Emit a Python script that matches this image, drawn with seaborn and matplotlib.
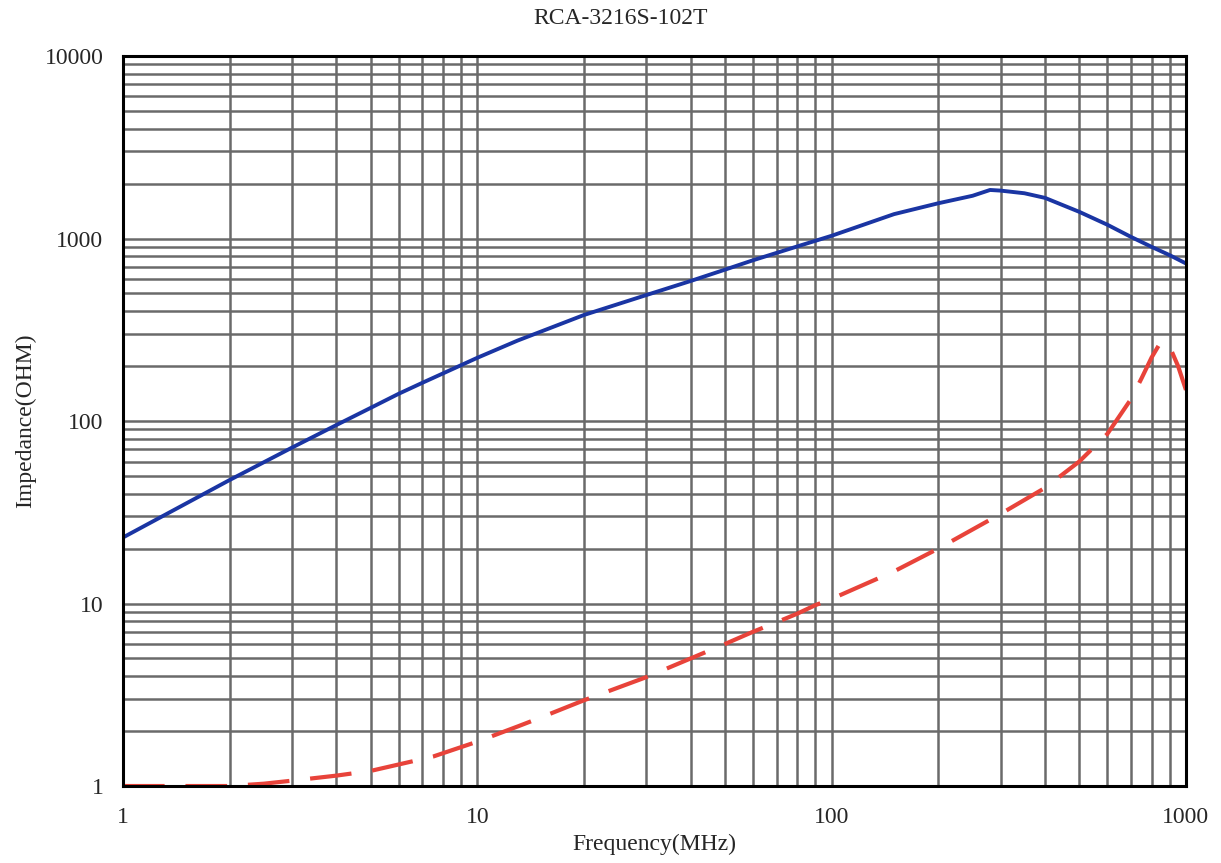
import numpy as np
import matplotlib
matplotlib.use("Agg")
import matplotlib.pyplot as plt
import matplotlib.ticker as ticker
import seaborn as sns

# impedance curve (solid blue)
freq_z = [1, 2, 3, 4, 5, 6, 7, 10, 13, 20, 30, 40, 50, 60, 80, 100, 150, 200,
          250, 280, 300, 350, 400, 500, 600, 700, 800, 900, 1000]
imp_z = [23, 47.5, 71.5, 95, 118, 141, 162, 222, 276, 381, 490, 585, 675, 760,
         905, 1035, 1360, 1560, 1715, 1845, 1830, 1770, 1670, 1400, 1190, 1020,
         900, 810, 730]

# second curve (dashed red)
freq_r = [1, 2, 2.5, 3, 4, 5, 6.5, 7.5, 10, 13, 15, 20, 30, 40, 50, 60, 70, 80,
          90, 100, 150, 200, 300, 400, 500, 600, 700, 750, 800, 850, 900, 950, 1000]
imp_r = [1.0, 1.0, 1.03, 1.07, 1.14, 1.21, 1.36, 1.45, 1.75, 2.12, 2.36, 2.95,
         3.95, 5.0, 6.0, 7.0, 7.9, 8.8, 9.8, 10.6, 15, 20, 31, 43, 60, 85, 132,
         172, 223, 272, 255, 200, 148]

x_ticks = [1, 10, 100, 1000]
y_ticks = [1, 10, 100, 1000, 10000]

sns.set_style("white")
plt.rcParams['font.family'] = ['Liberation Serif', 'DejaVu Serif']

fig, ax = plt.subplots(figsize=(12.21, 8.63), dpi=100)
fig.subplots_adjust(left=0.1007, right=0.9713, top=0.9351, bottom=0.0892)

sns.lineplot(x=freq_z, y=imp_z, ax=ax, color="#1a35a3", linewidth=2.8)
sns.lineplot(x=freq_r, y=imp_r, ax=ax, color="#e8433a", linewidth=3.0,
             linestyle=(0, (10, 5)))

ax.set_xscale("log")
ax.set_yscale("log")
ax.set_xlim(1, 1000)
ax.set_ylim(1, 10000)
ax.set_xticks(x_ticks)
ax.set_yticks(y_ticks)
fmt = ticker.FuncFormatter(lambda v, _: f"{v:g}")
ax.xaxis.set_major_formatter(fmt)
ax.yaxis.set_major_formatter(fmt)
ax.xaxis.set_minor_formatter(ticker.NullFormatter())
ax.yaxis.set_minor_formatter(ticker.NullFormatter())

ax.grid(True, which="both", color="#6a6a6a", linewidth=1.8)
ax.set_axisbelow(True)
ax.tick_params(which="both", length=0, labelsize=17)
ax.tick_params(axis="x", pad=15)
ax.tick_params(axis="y", pad=14)

for s in ax.spines.values():
    s.set_color("black")
    s.set_linewidth(2.2)

ax.set_xlabel("Frequency(MHz)", fontsize=17, labelpad=4)
ax.set_ylabel("Impedance(OHM)", fontsize=17, labelpad=6)
fig.suptitle("RCA-3216S-102T", x=0.508, y=0.979, va="center", fontsize=17)

plt.savefig("out.png", dpi=100)
